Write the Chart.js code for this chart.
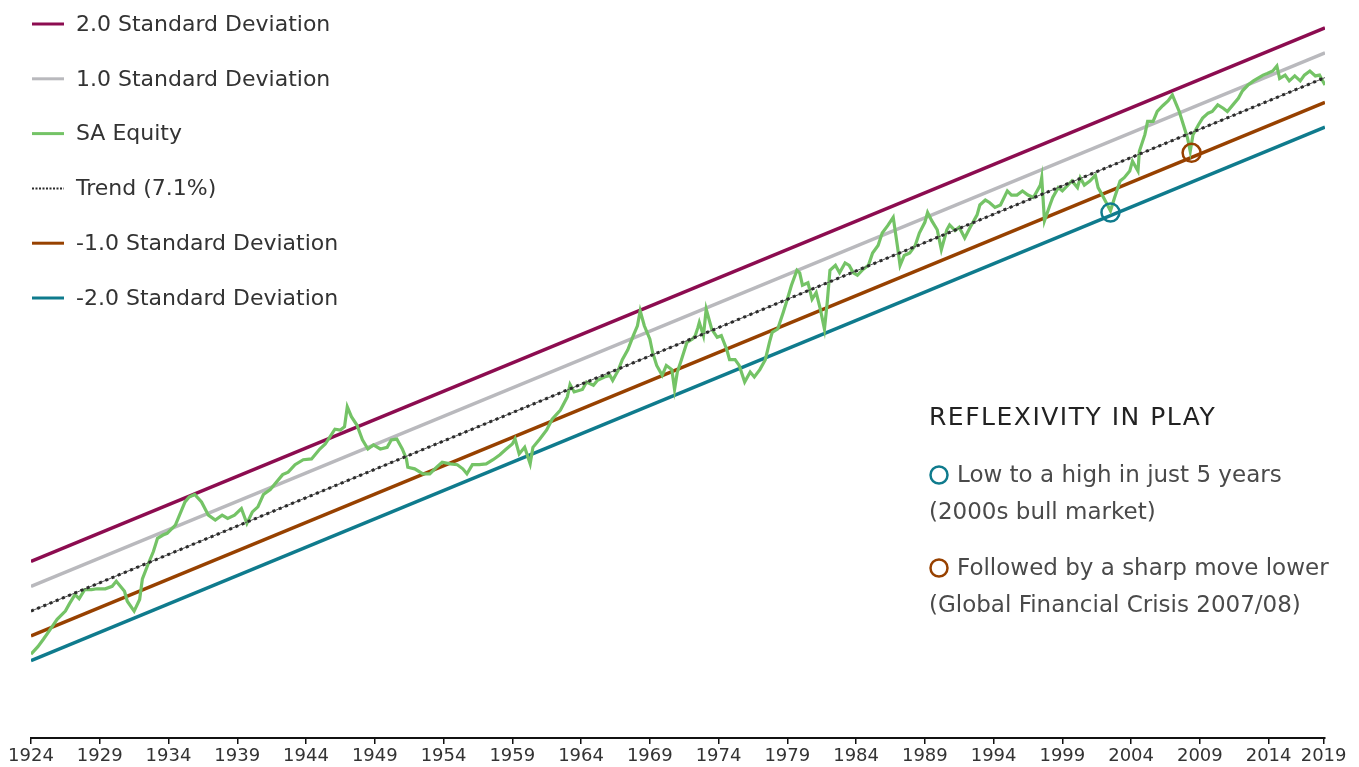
<!DOCTYPE html>
<html lang="en">
<head>
    <meta charset="UTF-8">
    <title>SA Equity - Reflexivity in Play</title>
    <script src="https://cdn.jsdelivr.net/npm/chart.js"></script>
    <style>
        body { margin: 0; background: #fff; }
        #wrap { width: 1359px; height: 767px; position: relative; }
    </style>
</head>
<body>
<div id="wrap"><canvas id="chart"></canvas></div>
<script>
// SA equity: decimal year and log index level (ln units)
const equityYears = [
    1924.0, 1924.5, 1924.9, 1925.4, 1925.9, 1926.5, 1926.8, 1927.2, 1927.5, 1927.9,
    1928.4, 1928.8, 1929.4, 1929.9, 1930.2, 1930.8, 1931.0, 1931.5, 1931.9, 1932.1,
    1932.5, 1932.9, 1933.2, 1933.6, 1933.9, 1934.5, 1934.8, 1935.2, 1935.5, 1935.9,
    1936.4, 1936.9, 1937.4, 1937.9, 1938.3, 1938.8, 1939.3, 1939.7, 1940.1, 1940.5,
    1940.9, 1941.4, 1941.7, 1942.3, 1942.7, 1943.2, 1943.8, 1944.4, 1945.0, 1945.4,
    1946.1, 1946.5, 1946.8, 1947.0, 1947.3, 1947.7, 1948.1, 1948.5, 1948.9, 1949.4,
    1949.9, 1950.2, 1950.6, 1951.0, 1951.3, 1951.4, 1951.9, 1952.5, 1953.0, 1953.5,
    1953.9, 1954.5, 1955.0, 1955.4, 1955.7, 1956.1, 1956.6, 1957.1, 1957.6, 1958.1,
    1958.5, 1959.0, 1959.2, 1959.5, 1959.9, 1960.3, 1960.5, 1961.0, 1961.5, 1961.9,
    1962.5, 1963.0, 1963.2, 1963.5, 1964.1, 1964.4, 1964.9, 1965.2, 1965.7, 1966.1,
    1966.3, 1966.7, 1967.0, 1967.4, 1967.8, 1968.1, 1968.3, 1968.6, 1969.0, 1969.2,
    1969.5, 1969.9, 1970.2, 1970.6, 1970.8, 1971.0, 1971.3, 1971.7, 1972.1, 1972.3,
    1972.5, 1972.6, 1972.9, 1973.1, 1973.5, 1973.9, 1974.2, 1974.6, 1974.8, 1975.2,
    1975.5, 1975.9, 1976.3, 1976.6, 1977.0, 1977.4, 1977.7, 1977.9, 1978.3, 1978.7,
    1979.0, 1979.3, 1979.7, 1979.9, 1980.1, 1980.5, 1980.8, 1981.1, 1981.4, 1981.7,
    1981.9, 1982.1, 1982.5, 1982.8, 1983.2, 1983.5, 1983.8, 1984.1, 1984.5, 1984.9,
    1985.2, 1985.6, 1985.9, 1986.3, 1986.7, 1987.0, 1987.2, 1987.5, 1987.9, 1988.3,
    1988.6, 1989.0, 1989.2, 1989.5, 1989.9, 1990.2, 1990.6, 1990.8, 1991.2, 1991.5,
    1991.9, 1992.3, 1992.8, 1993.0, 1993.4, 1993.7, 1994.1, 1994.5, 1995.0, 1995.3,
    1995.7, 1996.1, 1996.5, 1996.9, 1997.4, 1997.5, 1997.7, 1998.1, 1998.3, 1998.7,
    1999.0, 1999.4, 1999.7, 2000.1, 2000.3, 2000.6, 2001.0, 2001.4, 2001.6, 2001.9,
    2002.5, 2002.8, 2003.2, 2003.5, 2003.9, 2004.1, 2004.5, 2004.6, 2005.0, 2005.2,
    2005.6, 2005.9, 2006.3, 2006.7, 2007.0, 2007.3, 2007.5, 2007.8, 2008.1, 2008.3,
    2008.5, 2008.9, 2009.2, 2009.6, 2009.9, 2010.3, 2010.7, 2011.0, 2011.4, 2011.8,
    2012.1, 2012.5, 2012.9, 2013.2, 2013.6, 2013.9, 2014.3, 2014.6, 2014.8, 2015.2,
    2015.5, 2015.9, 2016.3, 2016.6, 2017.0, 2017.4, 2017.7, 2018.1
];
const equityLog = [
    -0.01, 0.08, 0.17, 0.29, 0.41, 0.51, 0.60, 0.71, 0.66, 0.77,
    0.77, 0.78, 0.78, 0.81, 0.87, 0.75, 0.63, 0.51, 0.65, 0.90,
    1.07, 1.23, 1.39, 1.43, 1.45, 1.55, 1.67, 1.83, 1.89, 1.92,
    1.83, 1.67, 1.61, 1.67, 1.63, 1.67, 1.75, 1.57, 1.71, 1.77,
    1.92, 1.98, 2.04, 2.16, 2.19, 2.28, 2.34, 2.35, 2.47, 2.53,
    2.71, 2.70, 2.74, 2.98, 2.86, 2.76, 2.58, 2.47, 2.52, 2.47,
    2.49, 2.58, 2.59, 2.47, 2.35, 2.25, 2.23, 2.17, 2.17, 2.25,
    2.31, 2.29, 2.28, 2.23, 2.17, 2.28, 2.28, 2.29, 2.34, 2.40,
    2.46, 2.53, 2.59, 2.41, 2.49, 2.29, 2.49, 2.59, 2.70, 2.83,
    2.94, 3.10, 3.25, 3.16, 3.19, 3.28, 3.24, 3.30, 3.34, 3.36,
    3.30, 3.42, 3.55, 3.67, 3.84, 3.96, 4.14, 3.96, 3.80, 3.64,
    3.48, 3.36, 3.48, 3.43, 3.19, 3.40, 3.55, 3.76, 3.80, 3.84,
    3.94, 4.00, 3.84, 4.16, 3.92, 3.82, 3.84, 3.67, 3.55, 3.55,
    3.48, 3.28, 3.40, 3.34, 3.43, 3.55, 3.76, 3.88, 3.92, 4.12,
    4.28, 4.45, 4.63, 4.60, 4.45, 4.48, 4.28, 4.36, 4.16, 3.92,
    4.24, 4.63, 4.69, 4.60, 4.72, 4.69, 4.60, 4.57, 4.64, 4.69,
    4.84, 4.93, 5.08, 5.17, 5.27, 4.93, 4.69, 4.81, 4.84, 4.93,
    5.08, 5.21, 5.33, 5.23, 5.12, 4.88, 5.12, 5.18, 5.11, 5.15,
    5.02, 5.15, 5.30, 5.42, 5.48, 5.45, 5.39, 5.42, 5.59, 5.54,
    5.54, 5.59, 5.54, 5.51, 5.66, 5.75, 5.23, 5.42, 5.51, 5.63,
    5.59, 5.66, 5.71, 5.63, 5.75, 5.66, 5.71, 5.78, 5.63, 5.54,
    5.35, 5.51, 5.71, 5.75, 5.83, 5.95, 5.83, 6.07, 6.27, 6.43,
    6.43, 6.55, 6.62, 6.68, 6.75, 6.63, 6.55, 6.39, 6.23, 6.07,
    6.27, 6.39, 6.47, 6.53, 6.55, 6.63, 6.59, 6.55, 6.63, 6.71,
    6.80, 6.87, 6.92, 6.95, 6.99, 7.01, 7.04, 7.10, 6.95, 6.99,
    6.92, 6.98, 6.92, 6.99, 7.04, 6.98, 6.99, 6.87
];

// trend (7.1% p.a.) and standard deviation bands: start and end points
const bandYears = [1924, 2018.1];
const plus2 = [1.11, 7.56];
const plus1 = [0.81, 7.26];
const trend = [0.51, 6.96];
const minus1 = [0.21, 6.66];
const minus2 = [-0.09, 6.36];

// circled points
const markerYears = [2002.5, 2008.4];
const markerLog = [5.33, 6.05];

// x axis ticks
const tickYears = [1924, 1929, 1934, 1939, 1944, 1949, 1954, 1959, 1964, 1969,
                   1974, 1979, 1984, 1989, 1994, 1999, 2004, 2009, 2014, 2018];
const tickLabels = ['1924', '1929', '1934', '1939', '1944', '1949', '1954', '1959', '1964', '1969',
                    '1974', '1979', '1984', '1989', '1994', '1999', '2004', '2009', '2014', '2019'];

const noteTitle = 'REFLEXIVITY IN PLAY';
const noteLines = [
    ['Low to a high in just 5 years', '(2000s bull market)'],
    ['Followed by a sharp move lower', '(Global Financial Crisis 2007/08)']
];

const MAROON = '#8c0c50';
const GREY = '#b9b9bd';
const GREEN = '#74c366';
const DARK = '#2b2b2b';
const BROWN = '#974100';
const TEAL = '#0f7b8d';
const FONT = "'DejaVu Sans', sans-serif";

function pts(xs, ys) {
    return xs.map((x, i) => ({ x: x, y: ys[i] }));
}

function band(label, values, color, order) {
    return {
        label: label, data: pts(bandYears, values), inLegend: true,
        borderColor: color, backgroundColor: color, borderWidth: 3.5, order: order
    };
}

// legend in the top left corner
const legendPlugin = {
    id: 'sideLegend',
    afterDraw(chart) {
        const ctx = chart.ctx;
        const items = chart.data.datasets.filter(d => d.inLegend);
        ctx.save();
        ctx.font = '22px ' + FONT;
        ctx.textBaseline = 'middle';
        items.forEach((d, i) => {
            const y = 24 + i * 54.8;
            ctx.beginPath();
            ctx.strokeStyle = d.borderColor;
            ctx.lineWidth = d.borderDash ? 2 : 3;
            ctx.setLineDash(d.borderDash ? [2, 1.5] : []);
            ctx.moveTo(32, y);
            ctx.lineTo(64, y);
            ctx.stroke();
            ctx.setLineDash([]);
            ctx.fillStyle = '#333';
            ctx.fillText(d.label, 76, y + 1);
        });
        ctx.restore();
    }
};

// text box on the right
const notePlugin = {
    id: 'note',
    afterDraw(chart) {
        const ctx = chart.ctx;
        const colors = [TEAL, BROWN];
        ctx.save();
        ctx.textBaseline = 'middle';
        ctx.fillStyle = '#222';
        ctx.font = '25px ' + FONT;
        ctx.letterSpacing = '1.5px';
        ctx.fillText(noteTitle, 929, 418);
        ctx.letterSpacing = '0px';
        noteLines.forEach((lines, i) => {
            const y = 476 + i * 93;
            ctx.beginPath();
            ctx.strokeStyle = colors[i];
            ctx.lineWidth = 2.5;
            ctx.arc(939, y - 1, 8.5, 0, Math.PI * 2);
            ctx.stroke();
            ctx.fillStyle = '#4a4a4a';
            ctx.font = '23px ' + FONT;
            ctx.fillText(lines[0], 957, y);
            ctx.fillText(lines[1], 929, y + 37);
        });
        ctx.restore();
    }
};

new Chart(document.getElementById('chart'), {
    type: 'line',
    data: {
        datasets: [
            band('2.0 Standard Deviation', plus2, MAROON, 5),
            band('1.0 Standard Deviation', plus1, GREY, 5),
            {
                label: 'SA Equity', data: pts(equityYears, equityLog), inLegend: true,
                borderColor: GREEN, backgroundColor: GREEN, borderWidth: 3.2, order: 3
            },
            {
                label: 'Trend (7.1%)', data: pts(bandYears, trend), inLegend: true,
                borderColor: DARK, backgroundColor: DARK, borderWidth: 3,
                borderDash: [3, 3.7], order: 1
            },
            band('-1.0 Standard Deviation', minus1, BROWN, 5),
            band('-2.0 Standard Deviation', minus2, TEAL, 5),
            {
                // thin line joining the trend dots
                label: 'trend line', data: pts(bandYears, trend),
                borderColor: '#555', borderWidth: 1, order: 2
            },
            {
                label: 'markers', data: pts(markerYears, markerLog), showLine: false,
                pointRadius: 9, pointBorderWidth: 2.5,
                pointBorderColor: [TEAL, BROWN], pointBackgroundColor: 'rgba(0,0,0,0)',
                order: 0
            }
        ]
    },
    options: {
        responsive: true,
        maintainAspectRatio: false,
        animation: false,
        layout: { padding: { top: 8, left: 31, right: 34, bottom: 0 } },
        elements: { point: { radius: 0 }, line: { tension: 0 } },
        plugins: { legend: { display: false }, tooltip: { enabled: false } },
        scales: {
            x: {
                type: 'linear', min: 1924, max: 2018.1,
                afterBuildTicks: (scale) => { scale.ticks = tickYears.map(v => ({ value: v })); },
                afterFit: (scale) => { scale.height = 29; },
                ticks: {
                    callback: (v, i) => tickLabels[i],
                    color: '#333', font: { family: FONT, size: 18 },
                    padding: 2, maxRotation: 0, autoSkip: false
                },
                grid: { drawOnChartArea: false, color: '#111', lineWidth: 1.5, tickLength: 6 },
                border: { color: '#111', width: 2 }
            },
            y: { display: false, min: -1.024, max: 7.759 }
        }
    },
    plugins: [legendPlugin, notePlugin]
});
</script>
</body>
</html>
